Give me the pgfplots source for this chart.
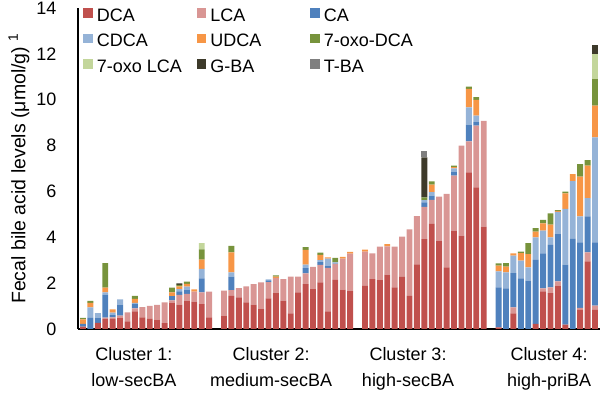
\documentclass[border=0pt]{standalone}
\usepackage{pgfplots}
\pgfplotsset{compat=1.18}
\usepackage{pgfplotstable}
\usepackage{fontspec}
\setmainfont{Liberation Sans}

\definecolor{cDCA}{HTML}{C0504D}
\definecolor{cLCA}{HTML}{D99694}
\definecolor{cCA}{HTML}{4F81BD}
\definecolor{cCDCA}{HTML}{95B3D7}
\definecolor{cUDCA}{HTML}{F79646}
\definecolor{cOXD}{HTML}{77933C}
\definecolor{cOXL}{HTML}{C3D69B}
\definecolor{cGBA}{HTML}{3D3A2A}
\definecolor{cTBA}{HTML}{7F7F7F}

\pgfplotstableread{
x dca lca ca cdca udca oxodca oxolca gba tba
0 0.10 0 0.12 0 0.20 0.06 0 0 0
1 0 0 0.48 0.46 0.20 0.09 0 0 0
2 0.27 0 0.20 0.22 0 0 0 0 0
3 0.45 0.05 1.00 0.10 0.20 1.07 0 0 0
4 0.44 0.07 0.10 0.10 0.15 0 0 0 0
5 0.50 0.08 0.48 0.23 0 0 0 0 0
6 0.33 0.40 0 0 0 0 0 0 0
7 0.77 0.13 0.19 0.05 0.17 0.13 0 0 0
8 0.51 0.44 0 0 0 0 0 0 0
9 0.44 0.57 0 0 0 0 0 0 0
10 0.41 0.64 0 0 0 0 0 0 0
11 0.26 0.90 0 0 0 0 0 0 0
12 1.15 0.10 0.18 0 0.17 0.20 0 0 0
13 1.06 0.43 0.15 0.10 0.12 0.06 0 0.07 0
14 1.24 0.29 0.17 0.15 0.12 0.10 0 0 0
15 1.19 0.44 0 0 0.10 0 0 0 0
16 1.09 0.51 0.61 0.41 0.41 0.44 0.28 0 0
17 0.51 1.12 0 0 0 0 0 0 0
19 0.58 1.09 0 0 0 0 0 0 0
20 1.45 0.25 0.58 0.19 0.87 0.29 0 0 0
21 1.38 0.40 0 0 0 0 0 0 0
22 1.16 0.70 0 0 0 0 0 0 0
23 1.06 0.90 0 0 0 0 0 0 0
24 0.87 1.16 0 0 0 0 0 0 0
25 1.34 0.70 0.08 0.04 0 0 0 0 0
26 1.56 0.67 0 0 0.05 0.06 0 0 0
27 1.24 0.94 0 0 0 0 0 0 0
28 0.68 1.60 0 0 0 0 0 0 0
29 1.60 0.68 0 0 0 0 0 0 0
30 1.96 0.47 0.22 0.16 0.64 0.12 0 0 0
31 1.74 0.97 0 0 0 0 0 0 0
32 2.03 0.77 0.12 0.08 0.23 0.10 0 0 0
33 0.77 1.90 0.07 0.33 0.05 0 0 0 0
34 2.14 0.70 0 0.07 0 0.19 0 0 0
35 1.72 1.35 0 0 0.08 0 0 0 0
36 1.65 1.64 0 0 0.07 0 0 0 0
38 1.88 1.50 0 0 0.08 0 0 0 0
39 2.18 1.12 0 0 0 0 0 0 0
40 2.13 1.46 0 0 0 0 0 0 0
41 2.37 1.23 0 0 0.10 0 0 0 0
42 1.81 1.78 0 0 0 0 0 0 0
43 2.27 1.76 0 0 0 0 0 0 0
44 1.44 2.90 0 0 0 0 0 0 0
45 2.82 2.10 0 0 0 0 0 0 0
46 3.92 1.41 0.19 0.10 0 0.12 0 1.74 0.29
47 4.58 1.05 0.19 0.15 0.33 0.14 0 0 0
48 3.85 1.92 0 0 0 0 0 0 0
49 2.69 3.20 0 0 0 0 0 0 0
50 4.29 2.40 0.17 0.15 0.05 0.07 0 0 0
51 4.07 3.93 0 0 0 0 0 0 0
52 6.83 1.35 0.73 0.76 0.80 0.10 0 0 0
53 6.18 2.69 0.15 0.29 0.68 0.12 0 0 0
54 4.46 4.62 0 0 0 0 0 0 0
56 0.07 0 1.74 0.70 0.25 0.10 0 0 0
57 0 0 1.77 0.70 0.25 0.15 0 0 0
58 0.68 0.26 1.50 0.76 0.10 0 0 0 0
59 0 0 2.21 0.77 0.33 0.07 0 0 0
60 0 0 2.11 0.58 0.58 0.47 0 0 0
61 0.22 0 2.79 0.99 0.25 0.15 0 0 0
62 1.64 0.13 1.53 0.99 0.32 0.15 0 0 0
63 1.56 0.26 1.85 0.33 0.55 0.49 0 0 0
64 1.89 0.19 2.06 0.97 0.04 0.03 0 0 0
65 0.19 0 2.62 2.43 0.68 0.07 0 0 0
66 0 0 3.93 2.52 0.31 0 0 0 0
67 0.83 0.09 2.86 1.13 1.74 0.54 0 0 0
68 2.95 0.39 1.57 0.80 1.41 0.25 0 0 0
69 0.83 0.19 2.76 4.58 1.38 1.16 1.09 0.39 0
}\data

\begin{document}
\begin{tikzpicture}
\useasboundingbox (-78pt,-67pt) rectangle (522pt,329pt);
\begin{axis}[
  at={(0pt,0pt)}, anchor=south west,
  width=522pt, height=321pt, scale only axis,
  ybar stacked, bar width=5.9pt,
  xmin=-0.67, xmax=69.67, ymin=0, ymax=14,
  axis lines*=left,
  axis line style={black, line width=1.3pt},
  ytick={0,2,...,14},
  xtick={6.87,25.34,43.8,62.8},
  xticklabels={{Cluster 1:\\low-secBA},{Cluster 2:\\medium-secBA},{Cluster 3:\\high-secBA},{Cluster 4:\\high-priBA}},
  tick style={draw=none},
  /pgf/number format/assume math mode=true,
  ticklabel style={font=\fontsize{18}{20}\selectfont},
  yticklabel style={xshift=-18pt},
  xticklabel style={align=center, font=\fontsize{18}{26}\selectfont, yshift=-15pt},
  ylabel={Fecal bile acid levels (μmol/g) \textsuperscript{1}},
  ylabel style={at={(axis description cs:-0.113,0.5)}, anchor=center, font=\fontsize{19.5}{21}\selectfont},
  legend columns=3,
  legend image code/.code={\fill[#1] (0pt,-2.9pt) rectangle (9.5pt,6.6pt);},
  legend style={at={(axis description cs:0.01,1.0)}, anchor=north west,
    draw=none, fill=none, inner sep=0pt, row sep=12.5pt,
    font=\fontsize{18}{20}\selectfont,
    nodes={inner xsep=4pt, inner ysep=0pt, text height=13pt, text depth=0pt}},
  legend cell align=left,
]
\addplot[fill=cDCA, draw=none] table[x=x,y=dca]{\data};
\addplot[fill=cLCA, draw=none] table[x=x,y=lca]{\data};
\addplot[fill=cCA, draw=none] table[x=x,y=ca]{\data};
\addplot[fill=cCDCA, draw=none] table[x=x,y=cdca]{\data};
\addplot[fill=cUDCA, draw=none] table[x=x,y=udca]{\data};
\addplot[fill=cOXD, draw=none] table[x=x,y=oxodca]{\data};
\addplot[fill=cOXL, draw=none] table[x=x,y=oxolca]{\data};
\addplot[fill=cGBA, draw=none] table[x=x,y=gba]{\data};
\addplot[fill=cTBA, draw=none] table[x=x,y=tba]{\data};
\legend{\makebox[96pt][l]{DCA},\makebox[96pt][l]{LCA},\makebox[96pt][l]{CA},\makebox[96pt][l]{CDCA},\makebox[96pt][l]{UDCA},\makebox[96pt][l]{7-oxo-DCA},\makebox[96pt][l]{7-oxo LCA},\makebox[96pt][l]{G-BA},\makebox[96pt][l]{T-BA}}
\end{axis}
\end{tikzpicture}
\end{document}
